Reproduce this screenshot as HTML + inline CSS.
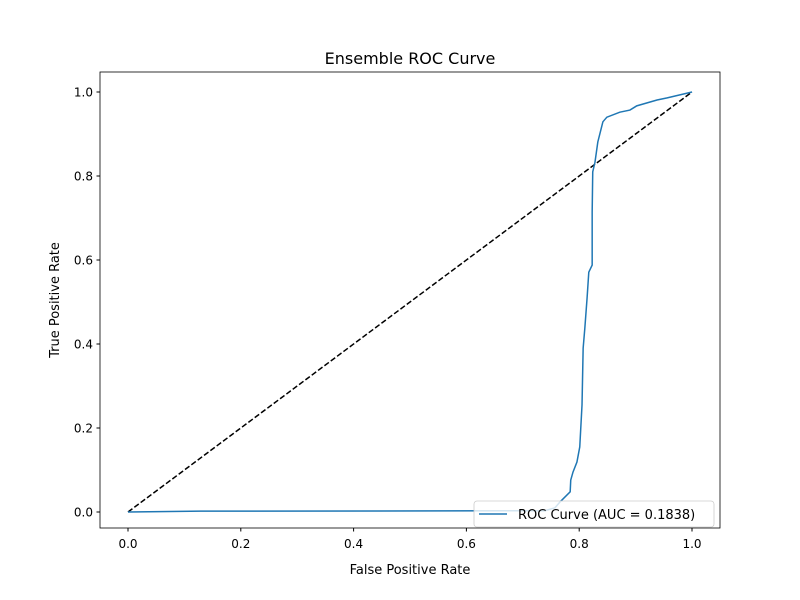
<!DOCTYPE html>
<html><head><meta charset="utf-8"><style>
body{margin:0;background:#fff;}
svg{display:block;font-family:"DejaVu Sans","Liberation Sans",sans-serif;}
</style></head><body>
<svg id="chart" width="800" height="600">
<rect width="800" height="600" fill="#fff"/>
<text x="410" y="64" text-anchor="middle" font-size="16">Ensemble ROC Curve</text>
<g id="ticks"></g>
<polyline id="diag" fill="none" stroke="#000" stroke-width="1.5" stroke-dasharray="5.5,2.4"/>
<polyline id="roc" fill="none" stroke="#1f77b4" stroke-width="1.5"/>
<rect x="100" y="72" width="620" height="456" fill="none" stroke="#000" stroke-width="0.8"/>
<text x="410" y="574" text-anchor="middle" font-size="13">False Positive Rate</text>
<text transform="translate(59,300) rotate(-90)" text-anchor="middle" font-size="13">True Positive Rate</text>
<g>
<rect x="474" y="501" width="240" height="26" rx="3" fill="#fff" fill-opacity="0.8" stroke="#ccc" stroke-width="0.8"/>
<line x1="479" y1="514" x2="507" y2="514" stroke="#1f77b4" stroke-width="1.5"/>
<text x="518" y="519" font-size="13">ROC Curve (AUC = 0.1838)</text>
</g>
</svg>
<script>
const fpr=[0,0.129,0.739,0.757,0.766,0.784,0.785,0.789,0.796,0.801,0.805,0.807,0.810,0.814,0.817,0.823,0.823,0.824,0.828,0.833,0.842,0.849,0.872,0.890,0.902,0.938,0.956,1];
const tpr=[0,0.002,0.003,0.01,0.024,0.048,0.076,0.095,0.119,0.155,0.255,0.390,0.438,0.510,0.571,0.588,0.714,0.810,0.833,0.881,0.929,0.940,0.952,0.957,0.967,0.981,0.986,1];
const xTicks=["0.0","0.2","0.4","0.6","0.8","1.0"];
const yTicks=["0.0","0.2","0.4","0.6","0.8","1.0"];
const X=v=>128+v*564, Y=v=>512-v*420;
document.getElementById('roc').setAttribute('points',fpr.map((f,i)=>X(f)+','+Y(tpr[i])).join(' '));
document.getElementById('diag').setAttribute('points',X(0)+','+Y(0)+' '+X(1)+','+Y(1));
const g=document.getElementById('ticks');const NS='http://www.w3.org/2000/svg';
xTicks.forEach(t=>{const x=X(parseFloat(t));
const l=document.createElementNS(NS,'line');l.setAttribute('x1',x);l.setAttribute('x2',x);l.setAttribute('y1',528);l.setAttribute('y2',531.5);l.setAttribute('stroke','#000');g.appendChild(l);
const s=document.createElementNS(NS,'text');s.setAttribute('x',x);s.setAttribute('y',548);s.setAttribute('text-anchor','middle');s.setAttribute('font-size','12');s.textContent=t;


g.appendChild(s);});
yTicks.forEach(t=>{const y=Y(parseFloat(t));
const l=document.createElementNS(NS,'line');l.setAttribute('x1',96.5);l.setAttribute('x2',100);l.setAttribute('y1',y);l.setAttribute('y2',y);l.setAttribute('stroke','#000');g.appendChild(l);
const s=document.createElementNS(NS,'text');s.setAttribute('x',93);s.setAttribute('y',y+4.5);s.setAttribute('text-anchor','end');s.setAttribute('font-size','12');s.textContent=t;


g.appendChild(s);});
</script>
</body></html>
